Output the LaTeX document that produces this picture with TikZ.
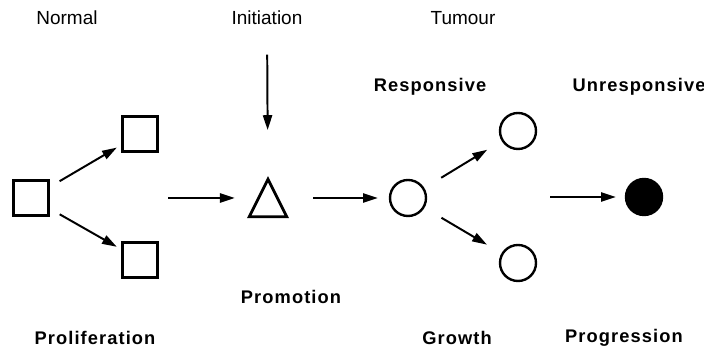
\documentclass[tikz,border=0pt]{standalone}
\usepackage{fontspec}
\setmainfont{Liberation Sans}
\newfontfamily\phasefont[LetterSpace=6]{Liberation Sans Bold}
\usetikzlibrary{arrows.meta}

\tikzset{
  stagelbl/.style={font=\fontsize{13.5}{15}\selectfont},
  phaselbl/.style={font=\phasefont\fontsize{13}{15}\selectfont},
  cellsq/.style={draw, line width=2pt, minimum size=0.875cm, inner sep=0pt},
  cellc/.style={draw, circle, line width=1.7pt, minimum size=0.9cm, inner sep=0pt},
  arr/.style={-{Triangle[length=10.5pt,width=6.5pt]}, line width=1.4pt},
}

\begin{document}
\begin{tikzpicture}[x=0.025cm, y=-0.025cm]
  \useasboundingbox (0,0) rectangle (704,352);

  % Labels
  \node[stagelbl] (normal) at (67,18) {Normal};
  \node[stagelbl] (initiation) at (267,18) {Initiation};
  \node[stagelbl] (tumour) at (463,18) {Tumour};
  \node[phaselbl] (responsive) at (430,87) {Responsive};
  \node[phaselbl] (unresponsive) at (639,87) {Unresponsive};
  \node[phaselbl] (promotion) at (291,297) {Promotion};
  \node[phaselbl] (proliferation) at (95,338) {Proliferation};
  \node[phaselbl] (growth) at (457,338) {Growth};
  \node[phaselbl] (progression) at (624,338) {Progression};

  % Normal cells
  \node[cellsq] (sq0) at (31,198) {};
  \node[cellsq] (sq1) at (140,134) {};
  \node[cellsq] (sq2) at (140,260) {};
  \draw[arr, shorten <=8pt, shorten >=3.5pt] (sq0) -- (sq1);
  \draw[arr, shorten <=8pt, shorten >=3.5pt] (sq0) -- (sq2);

  % Initiated cell
  \node[minimum size=0.925cm, inner sep=0pt] (tri) at (268,198) {};
  \draw[line width=2pt, line join=miter] (tri.south west) -- (tri.north) -- (tri.south east) -- cycle;
  \coordinate (fork) at (168,198);
  \draw[arr, shorten >=10.3pt] (fork) -- (tri);
  \draw[arr, shorten <=17.5pt, shorten >=35pt] (initiation) -- (tri);

  % Tumour cells
  \node[cellc] (c0) at (408,198) {};
  \node[cellc] (c1) at (518,131) {};
  \node[cellc] (c2) at (518,263) {};
  \node[cellc, fill=black] (c3) at (644,197) {};
  \draw[arr, shorten <=18.8pt, shorten >=7.8pt] (tri) -- (c0);
  \draw[arr, shorten <=14pt, shorten >=12pt] (c0) -- (c1);
  \draw[arr, shorten <=14pt, shorten >=12pt] (c0) -- (c2);
  \coordinate (split) at (550,197);
  \draw[arr, shorten >=6.4pt] (split) -- (c3);
\end{tikzpicture}
\end{document}
